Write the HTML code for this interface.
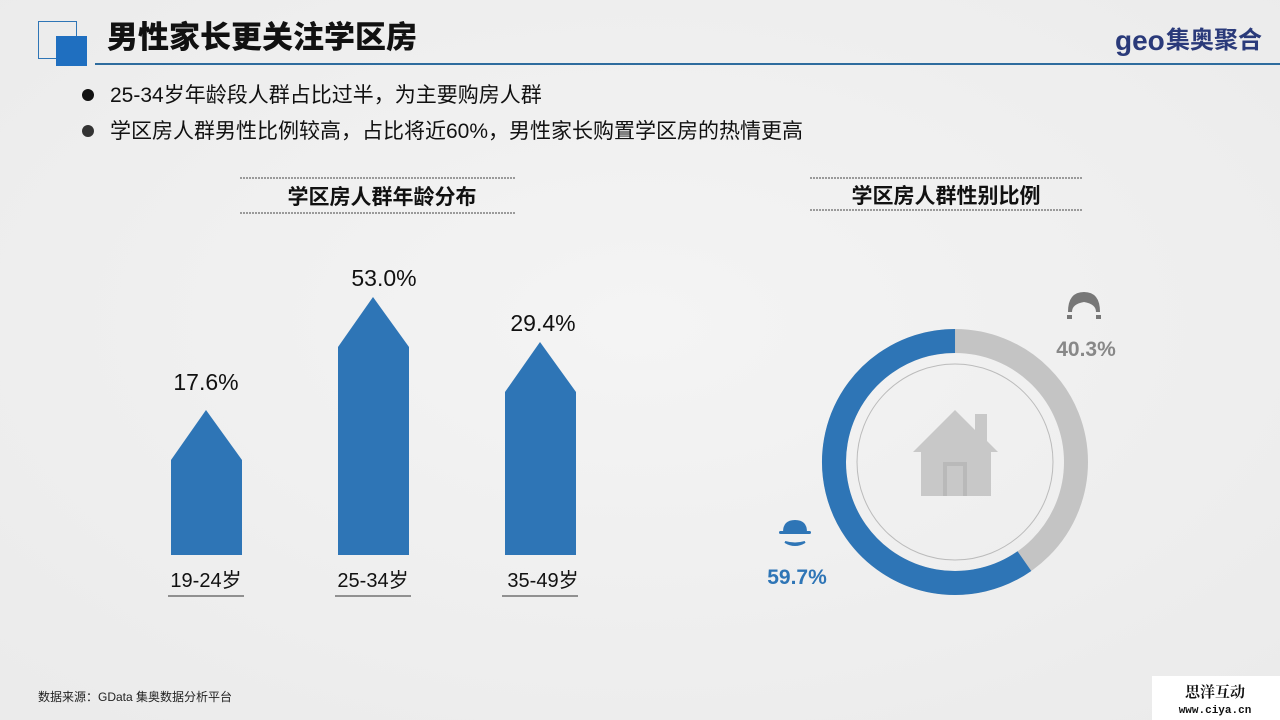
<!DOCTYPE html>
<html><head><meta charset="utf-8"><style>
body{margin:0;width:1280px;height:720px;overflow:hidden;background:#f2f2f2;font-family:"Liberation Sans","Noto Sans CJK SC",sans-serif;}
</style></head><body>
<svg width="1280" height="720" xmlns="http://www.w3.org/2000/svg" style="position:absolute;left:0;top:0">
<defs><radialGradient id="bg" cx="50%" cy="45%" r="70%"><stop offset="0" stop-color="#f4f4f4"/><stop offset="1" stop-color="#ebebeb"/></radialGradient></defs>
<rect width="1280" height="720" fill="url(#bg)"/>
<rect x="38.5" y="21.5" width="38" height="37" fill="none" stroke="#2e75b6" stroke-width="1"/>
<rect x="56" y="36" width="31" height="30" fill="#1f6fc0"/>
<line x1="95" y1="64" x2="1280" y2="64" stroke="#2e6c9e" stroke-width="2"/>
<text x="107" y="48" font-size="31" font-weight="900" fill="#111" font-family="Noto Sans CJK SC,sans-serif">男性家长更关注学区房</text>
<text x="1115" y="50" font-size="28" font-weight="bold" fill="#2a3a7a" font-family="Liberation Sans,sans-serif">geo</text>
<text x="1166" y="48" font-size="24" font-weight="bold" fill="#2a3a7a" font-family="Noto Sans CJK SC,sans-serif">集奥聚合</text>
<circle cx="88" cy="95" r="6" fill="#111"/>
<circle cx="88" cy="131" r="6" fill="#333"/>
<text x="110" y="102" font-size="21" fill="#111" font-family="Liberation Sans,Noto Sans CJK SC,sans-serif">25-34岁年龄段人群占比过半，为主要购房人群</text>
<text x="110" y="138" font-size="21" fill="#111" font-family="Liberation Sans,Noto Sans CJK SC,sans-serif">学区房人群男性比例较高，占比将近60%，男性家长购置学区房的热情更高</text>
<line x1="240" y1="178" x2="515" y2="178" stroke="#444" stroke-dasharray="2,1"/>
<line x1="240" y1="213" x2="515" y2="213" stroke="#444" stroke-dasharray="2,1"/>
<text x="382" y="204" font-size="21" font-weight="bold" text-anchor="middle" fill="#111" font-family="Noto Sans CJK SC,sans-serif">学区房人群年龄分布</text>
<line x1="810" y1="178" x2="1083" y2="178" stroke="#444" stroke-dasharray="2,1"/>
<line x1="810" y1="210" x2="1083" y2="210" stroke="#444" stroke-dasharray="2,1"/>
<text x="946" y="203" font-size="21" font-weight="bold" text-anchor="middle" fill="#111" font-family="Noto Sans CJK SC,sans-serif">学区房人群性别比例</text>
<polygon points="171,555 171,460 206,410 242,460 242,555" fill="#2e75b6"/>
<polygon points="338,555 338,347 373,297 409,347 409,555" fill="#2e75b6"/>
<polygon points="505,555 505,392 540,342 576,392 576,555" fill="#2e75b6"/>
<g font-size="23" text-anchor="middle" fill="#111" font-family="Liberation Sans,sans-serif">
<text x="206" y="390">17.6%</text><text x="384" y="286">53.0%</text><text x="543" y="331">29.4%</text>
</g>
<g font-size="20" text-anchor="middle" fill="#111" font-family="Liberation Sans,Noto Sans CJK SC,sans-serif">
<text x="206" y="587">19-24岁</text><text x="373" y="587">25-34岁</text><text x="543" y="587">35-49岁</text>
</g>
<line x1="168" y1="596" x2="244" y2="596" stroke="#333"/>
<line x1="335" y1="596" x2="411" y2="596" stroke="#333"/>
<line x1="502" y1="596" x2="578" y2="596" stroke="#333"/>
<circle cx="955" cy="462" r="121" fill="none" stroke="#c4c4c4" stroke-width="24"/>
<circle cx="955" cy="462" r="121" fill="none" stroke="#2e75b6" stroke-width="24" stroke-dasharray="453.9 1000" transform="rotate(55 955 462) " />
<circle cx="955" cy="462" r="98" fill="none" stroke="#bbb" stroke-width="1"/>
<polygon points="955,410 913,452 921,452 921,496 991,496 991,452 998,452 987,441 987,414 975,414 975,430" fill="#c8c8c8"/>
<rect x="943" y="462" width="24" height="34" fill="#b9b9b9"/><rect x="947" y="466" width="16" height="30" fill="#c8c8c8"/>
<path d="M1068,312 q0,-20 16,-20 q16,0 16,20 l-4,0 q0,-8 -12,-10 q-12,2 -12,10z" fill="#777"/>
<rect x="1067" y="315" width="5" height="4" fill="#777"/><rect x="1096" y="315" width="5" height="4" fill="#777"/>
<text x="1086" y="356" font-size="21" font-weight="bold" text-anchor="middle" fill="#888" font-family="Liberation Sans,sans-serif">40.3%</text>
<path d="M783,532 q0,-12 12,-12 q12,0 12,12z" fill="#2e75b6"/><rect x="779" y="531" width="32" height="3" rx="1.5" fill="#2e75b6"/>
<path d="M785,542 q10,6 20,0 q-10,3 -20,0z" fill="#2e75b6" stroke="#2e75b6" stroke-width="2"/>
<text x="797" y="584" font-size="21" font-weight="bold" text-anchor="middle" fill="#2e75b6" font-family="Liberation Sans,sans-serif">59.7%</text>
<text x="38" y="701" font-size="12" fill="#222" font-family="Liberation Sans,Noto Sans CJK SC,sans-serif">数据来源：GData  集奥数据分析平台</text>
<rect x="1152" y="676" width="128" height="44" fill="#fff"/>
<text x="1215" y="697" font-size="15" font-weight="bold" text-anchor="middle" fill="#111" font-family="Noto Serif CJK SC,serif">思洋互动</text>
<text x="1215" y="713" font-size="11" font-weight="bold" text-anchor="middle" fill="#111" font-family="Liberation Mono,monospace">www.ciya.cn</text>
</svg>
</body></html>
